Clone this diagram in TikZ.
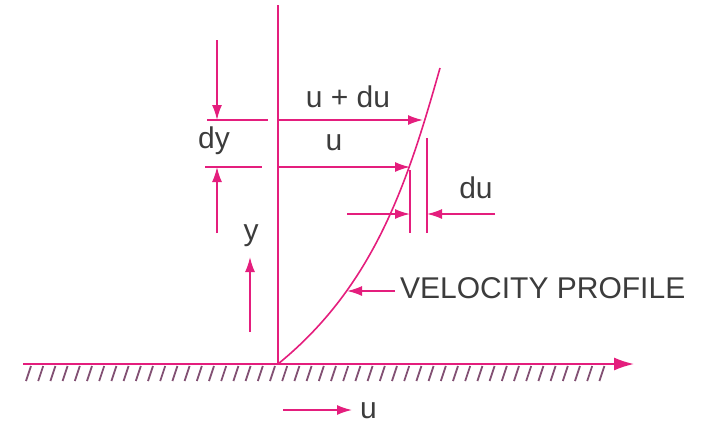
\documentclass[tikz,border=0pt]{standalone}
\usepackage{fontspec}
\setmainfont{Liberation Sans}
\usetikzlibrary{arrows.meta,positioning,calc}
\definecolor{flmag}{RGB}{228,30,125}
\definecolor{flhatch}{RGB}{130,80,115}
\definecolor{fltext}{RGB}{60,60,60}
\tikzset{
  ln/.style={flmag, line width=1.6pt},
  arr/.style={-{Latex[length=15pt,width=10pt]}, flmag, line width=1.6pt},
  warr/.style={-{Latex[length=20pt,width=13pt]}, flmag, line width=1.7pt},
  htch/.style={flhatch, line width=1.8pt},
  lbl/.style={font=\fontsize{30}{36}\selectfont, text=fltext, inner sep=0pt, anchor=base},
}

\begin{document}
\begin{tikzpicture}[x=1pt, y=-1pt]
    \useasboundingbox (0,0) rectangle (702,423);
    \coordinate (o) at (278,364);
    \coordinate (wl) at (23,364);
    \coordinate (wr) at (634,364);
    \coordinate (top) at (278,5);
    \draw[warr] (wl) -- (wr);
    \foreach \i in {0,...,47}
      \draw[htch] ($(26,381)+(\i*12.2,0)$) -- ++(5,-15);
    \draw[ln] (o) -- (top);
    \coordinate (pt) at (440,68);
    \draw[ln] (o) .. controls (375,285) and (408,181) .. (pt);
    % u and u + du
    \coordinate (ua) at (278,120); \coordinate (ub) at (423,120);
    \coordinate (va) at (278,167); \coordinate (vb) at (410,167);
    \draw[arr] (ua) -- (ub);
    \draw[arr] (va) -- (vb);
    \node[lbl] (udu) at (348,107) {u + du};
    \node[lbl] (um) at (334,150) {u};
    % dy
    \coordinate (t1a) at (207,120); \coordinate (t1b) at (268,120);
    \coordinate (t2a) at (205,167); \coordinate (t2b) at (262,167);
    \draw[ln] (t1a) -- (t1b);
    \draw[ln] (t2a) -- (t2b);
    \coordinate (dn) at (217,40); \coordinate (dnt) at (217,120);
    \coordinate (up) at (217,233); \coordinate (upt) at (217,167);
    \draw[arr] (dn) -- (dnt);
    \draw[arr] (up) -- (upt);
    \node[lbl] (dy) at (214,148) {dy};
    % y
    \coordinate (ya) at (250,332); \coordinate (yb) at (250,257);
    \draw[arr] (ya) -- (yb);
    \node[lbl] (y) at (251,240) {y};
    % du
    \coordinate (l1a) at (410,170); \coordinate (l1b) at (410,233);
    \coordinate (l2a) at (427,138); \coordinate (l2b) at (427,233);
    \draw[ln] (l1a) -- (l1b);
    \draw[ln] (l2a) -- (l2b);
    \coordinate (da) at (347,214); \coordinate (db) at (410,214);
    \coordinate (dc) at (495,214); \coordinate (dd) at (427,214);
    \draw[arr] (da) -- (db);
    \draw[arr] (dc) -- (dd);
    \node[lbl] (du) at (476,198) {du};
    % profile
    \node[lbl, anchor=base west] (vp) at (400,298) {VELOCITY PROFILE};
    \coordinate (pa) at (395,291); \coordinate (pb) at (347,291);
    \draw[arr] (pa) -- (pb);
    % wall velocity
    \coordinate (wa) at (283,410); \coordinate (wb) at (352,410);
    \node[lbl, anchor=base west] (uw) at (360,418) {u};
    \draw[arr] (wa) -- (wb);
\end{tikzpicture}
\end{document}
